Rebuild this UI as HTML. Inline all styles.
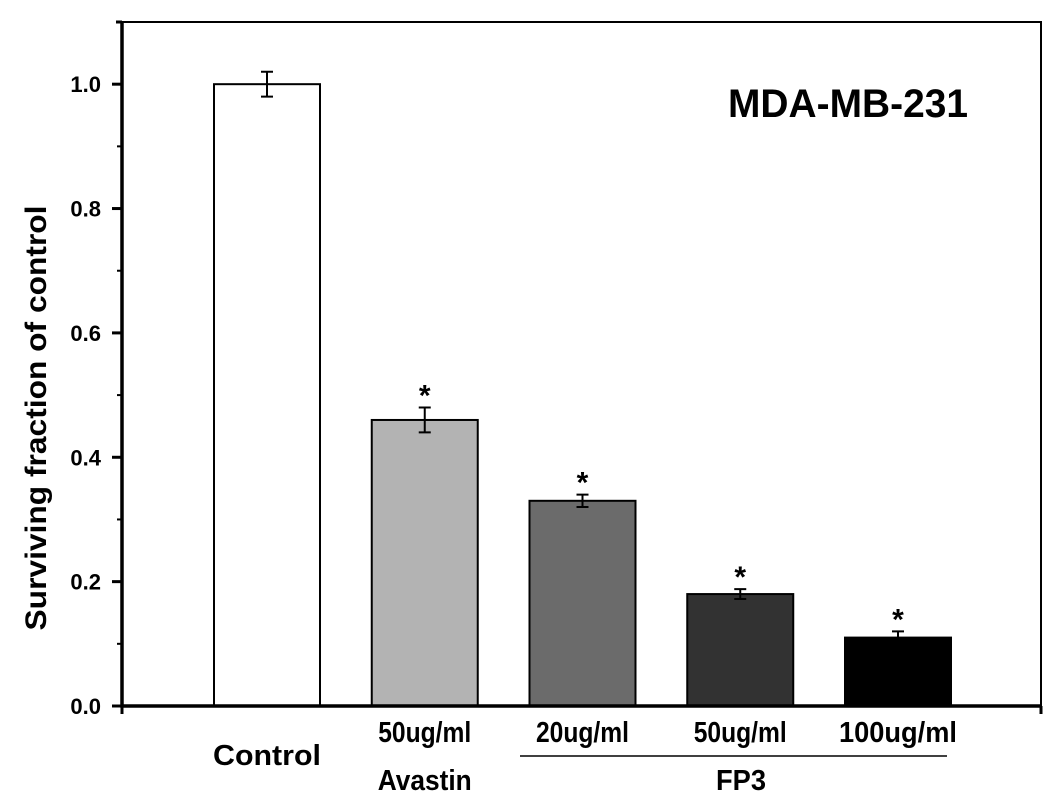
<!DOCTYPE html>
<html><head><meta charset="utf-8"><style>
body{margin:0;background:#fff}
svg{display:block;font-family:"Liberation Sans",Arial,sans-serif;font-weight:bold}
</style></head><body>
<svg id="chart" width="1063" height="811">
<g id="g"></g>
</svg>
<script>
const categories=["Control","50ug/ml","20ug/ml","50ug/ml","100ug/ml"];
const values=[1.0,0.46,0.33,0.18,0.11];
const errors=[0.02,0.02,0.01,0.008,0.01];
const fills=["#ffffff","#b3b3b3","#6b6b6b","#323232","#000000"];
const significant=[false,true,true,true,true];
const yTicks=[0.0,0.2,0.4,0.6,0.8,1.0];
const yMinor=[0.1,0.3,0.5,0.7,0.9];
const NS="http://www.w3.org/2000/svg";
const g=document.getElementById('g');
const L=122,R=1041,T=22,B=706,yMax=1.1;
const y=v=>B-(v/yMax)*(B-T);
const x=i=>267+i*157.75;
const bw=106;
function mk(t,a,txt){const e=document.createElementNS(NS,t);for(const k in a)e.setAttribute(k,a[k]);if(txt!==undefined)e.textContent=txt;g.appendChild(e);return e;}
let e=mk('rect',{x:L,y:T,width:R-L,height:B-T,fill:'none',stroke:'#000','stroke-width':2});

values.forEach((v,i)=>{
 let b=mk('rect',{x:x(i)-bw/2,y:y(v),width:bw,height:B-y(v),fill:fills[i],stroke:'#000','stroke-width':2});
 
 const hi=y(v+errors[i]),lo=y(v-errors[i]);
 let eb=mk('path',{d:`M${x(i)},${hi}V${lo}M${x(i)-6},${hi}H${x(i)+6}M${x(i)-6},${lo}H${x(i)+6}`,stroke:'#000','stroke-width':2,fill:'none'});
 
 if(significant[i]){let s=mk('text',{x:x(i),y:hi-2,'text-anchor':'middle','font-size':30},'*');
 }
 let t=mk('text',{x:x(i),y:i==0?765:742,'text-anchor':'middle','font-size':29,textLength:i==0?108:(i==4?118:93),lengthAdjust:'spacingAndGlyphs'},categories[i]);
 
});
e=mk('path',{d:`M${L},${T}V${B}H${R}`,stroke:'#000','stroke-width':3.5,fill:'none'});

yTicks.forEach(v=>{
 let tk=mk('line',{x1:L-10,x2:L,y1:y(v),y2:y(v),stroke:'#000','stroke-width':3});
 
 let t=mk('text',{x:101,y:y(v)+8,'text-anchor':'end','font-size':22},v.toFixed(1));
 
});
yMinor.forEach(v=>{let tk=mk('line',{x1:L-5,x2:L,y1:y(v),y2:y(v),stroke:'#000','stroke-width':2});
 });
e=mk('path',{d:`M${L},${B}v8M${R},${B}v8M${L},${T}h-6`,stroke:'#000','stroke-width':3,fill:'none'});

e=mk('text',{x:0,y:0,transform:'translate(46,418) rotate(-90)','text-anchor':'middle','font-size':30,textLength:425,lengthAdjust:'spacingAndGlyphs'},'Surviving fraction of control');

e=mk('text',{x:848,y:117,'text-anchor':'middle','font-size':40,textLength:240,lengthAdjust:'spacingAndGlyphs'},'MDA-MB-231');

e=mk('text',{x:x(1),y:790,'text-anchor':'middle','font-size':29,textLength:94,lengthAdjust:'spacingAndGlyphs'},'Avastin');

e=mk('line',{x1:520,x2:947,y1:756,y2:756,stroke:'#000','stroke-width':1.5});

e=mk('text',{x:741,y:790,'text-anchor':'middle','font-size':29,textLength:50,lengthAdjust:'spacingAndGlyphs'},'FP3');

</script>
</body></html>
